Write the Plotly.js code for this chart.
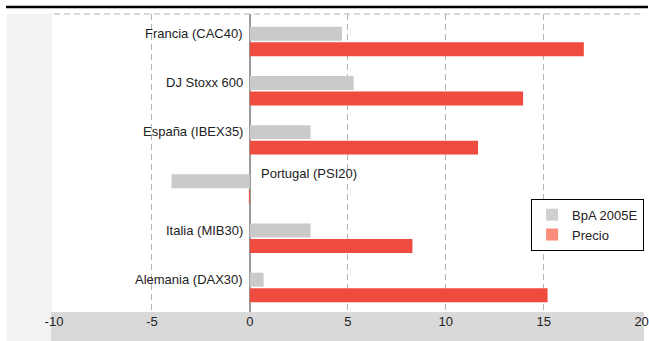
<!DOCTYPE html>
<html>
<head>
<meta charset="utf-8">
<script src="https://cdn.plot.ly/plotly-3.0.1.min.js"></script>
<style>html,body{margin:0;padding:0;background:#fff;}#chart{width:649px;height:341px;}</style>
</head>
<body>
<div id="chart"></div>
<script>
const categories = ["Francia (CAC40)", "DJ Stoxx 600", "España (IBEX35)", "Portugal (PSI20)", "Italia (MIB30)", "Alemania (DAX30)"];
const bpa2005e = [4.7, 5.3, 3.1, -4.0, 3.1, 0.7];
const precio = [17.05, 13.95, 11.65, -0.05, 8.3, 15.2];
const xTicks = [-10, -5, 0, 5, 10, 15, 20];
const seriesNames = ["BpA 2005E", "Precio"];

const barColors = ['#cacaca', '#f04b3f'];
const legendColors = ['#cfcfcf', '#fa8d7b'];

const traces = [
  {type: 'bar', orientation: 'h', name: seriesNames[0], y: categories, x: bpa2005e,
   marker: {color: barColors[0]}, hoverinfo: 'skip', showlegend: false},
  {type: 'bar', orientation: 'h', name: seriesNames[1], y: categories, x: precio,
   marker: {color: barColors[1]}, hoverinfo: 'skip', showlegend: false},
  // legend swatches only (separate hidden axes so grouping is unaffected)
  {type: 'bar', orientation: 'h', name: seriesNames[0], y: [null], x: [null],
   xaxis: 'x2', yaxis: 'y2', marker: {color: legendColors[0]}, hoverinfo: 'skip'},
  {type: 'bar', orientation: 'h', name: seriesNames[1], y: [null], x: [null],
   xaxis: 'x2', yaxis: 'y2', marker: {color: legendColors[1]}, hoverinfo: 'skip'}
];

const annotations = categories.map((c, i) => {
  const neg = bpa2005e[i] < 0;
  return {
    x: 0, y: c, xref: 'x', yref: 'y', text: c, showarrow: false,
    xanchor: neg ? 'left' : 'right', xshift: neg ? 9 : -5,
    yshift: neg ? 16 : 8,
    font: {family: 'Liberation Sans, Arial, sans-serif', size: 13, color: '#222'}
  };
});

const layout = {
  width: 649, height: 341,
  margin: {l: 54, r: 6, t: 14, b: 29, pad: 0},
  paper_bgcolor: '#ffffff', plot_bgcolor: '#ffffff',
  font: {family: 'Liberation Sans, Arial, sans-serif', size: 13, color: '#222'},
  barmode: 'group', bargap: 0.37, bargroupgap: 0.1,
  showlegend: true,
  legend: {x: 0.81, y: 0.38, xanchor: 'left', yanchor: 'top', bgcolor: '#ffffff',
           bordercolor: '#000', borderwidth: 1, font: {size: 13, color: '#222'},
           traceorder: 'normal', itemwidth: 30, tracegroupgap: 0},
  xaxis: {range: [-10, 20.02], tickvals: xTicks, ticktext: xTicks.map(String),
          showgrid: true, gridcolor: '#b3b3b3', griddash: '6px,4px', gridwidth: 1,
          zeroline: true, zerolinecolor: '#9a9a9a', zerolinewidth: 1.5,
          showline: false, ticks: '', tickfont: {size: 13, color: '#222'}, fixedrange: true},
  yaxis: {type: 'category', range: [5.5, -0.56], showticklabels: false, showgrid: false,
          zeroline: false, showline: false, ticks: '', fixedrange: true},
  xaxis2: {overlaying: 'x', visible: false, range: [0, 1], fixedrange: true},
  yaxis2: {overlaying: 'y', visible: false, range: [0, 1], fixedrange: true},
  annotations: annotations,
  shapes: [
    {type: 'rect', xref: 'paper', yref: 'paper', x0: -0.0798, x1: -0.0034, y0: -0.0973, y1: 1,
     fillcolor: '#f2f2f2', line: {width: 0}, layer: 'below'},
    {type: 'rect', xref: 'paper', yref: 'paper', x0: -0.0051, x1: 1.0034, y0: -0.0973, y1: 0,
     fillcolor: '#d9d9d9', line: {width: 0}, layer: 'below'},
    {type: 'line', xref: 'paper', yref: 'paper', x0: -0.0815, x1: 1.0102, y0: 1.0235, y1: 1.0235,
     line: {color: '#000', width: 2.5}},
    {type: 'line', xref: 'paper', yref: 'paper', x0: 0, x1: 1, y0: 1, y1: 1,
     line: {color: '#b3b3b3', width: 1, dash: '6px,4px'}}
  ]
};

Plotly.newPlot('chart', traces, layout, {displayModeBar: false, staticPlot: true});
</script>
</body>
</html>
